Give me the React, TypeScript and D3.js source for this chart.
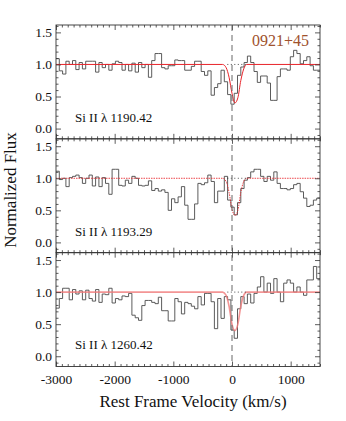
import { useRef, useEffect } from 'react';
import * as d3 from 'd3';

const WIDTH = 346;
const HEIGHT = 421;
const MARGIN = { top: 25, right: 26, bottom: 54.5, left: 56 };
const FONT = "'Liberation Serif', 'Times New Roman', serif";

const V_DOMAIN = [-3000, 1500];
const FLUX_DOMAIN = [-0.16, 1.615];
const X_MAJOR = [-3000, -2000, -1000, 0, 1000];
const Y_MAJOR = [0, 0.5, 1.0, 1.5];

const BIN_START = -3000;
const BIN_WIDTH = 56.25;

const OBJECT_NAME = '0921+45';
const LINE_LABELS = ['Si II \u03bb 1190.42', 'Si II \u03bb 1193.29', 'Si II \u03bb 1260.42'];

const FLUX_1190 = [
  1.09, 0.9, 0.85, 1.05, 1.0, 1.06, 0.92, 1.03, 0.93, 1.05,
  1.05, 1.05, 0.88, 1.03, 0.95, 1.0, 0.91, 1.01, 1.05, 1.03,
  0.91, 1.0, 0.9, 1.02, 0.88, 1.03, 0.95, 1.0, 0.8, 1.06,
  1.17, 1.17, 0.95, 0.93, 0.98,
  0.98, 1.07, 1.06, 1.06, 0.91, 0.91, 0.97, 1.05, 1.05, 0.89,
  0.83, 0.9, 0.52, 0.64, 0.7, 0.91, 0.73, 0.53, 0.38, 0.55,
  0.83, 0.96, 1.03, 1.13, 1.03, 0.89, 0.72, 0.82, 0.82, 0.71,
  0.44, 0.44, 0.81, 0.93, 0.93, 0.91, 1.12, 1.22, 1.17, 1.01,
  1.06, 1.12, 0.98, 0.91, 0.91,
];

const FLUX_1193 = [
  1.11, 0.98, 1.0, 0.87, 1.01, 1.03, 1.05, 1.01, 0.92, 1.0,
  1.05, 0.88, 1.02, 0.87, 1.01, 0.92, 0.75, 1.14, 1.14, 0.89,
  0.88, 0.97, 0.92, 1.03, 1.0, 0.89, 0.88, 0.89, 0.96, 0.81,
  0.84, 0.8, 0.82, 0.78, 0.5,
  0.68, 0.62, 0.71, 0.87, 0.58, 0.36, 0.36, 0.6, 0.92, 0.9,
  0.93, 1.05, 0.95, 0.62, 0.8, 0.8, 1.03, 0.66, 0.55, 0.43,
  0.62, 0.84, 0.97, 1.01, 1.1, 1.14, 1.14, 1.03, 0.95, 1.03,
  0.97, 1.1, 0.92, 0.84, 0.84, 0.82, 0.84, 0.9, 0.92, 0.79,
  0.69, 0.56, 0.58, 0.66, 0.69,
];

const FLUX_1260 = [
  0.75, 0.9, 1.06, 1.06, 0.88, 1.04, 0.97, 1.02, 0.88, 1.03,
  0.9, 0.86, 1.04, 0.84, 0.97, 0.96, 1.06, 0.83, 0.9, 0.88,
  0.94, 0.93, 0.98, 0.64, 0.6, 0.56, 0.79, 0.87, 0.87, 0.84,
  0.82, 0.92, 0.71, 0.71, 0.55,
  0.55, 0.9, 0.85, 0.66, 0.84, 0.82, 0.78, 0.74, 0.93, 0.8,
  0.98, 0.98, 0.85, 0.43, 0.9, 0.59, 0.93, 0.88, 0.41, 0.28,
  0.74, 0.93, 0.82, 0.97, 0.83, 0.98, 1.08, 1.24, 1.0, 1.14,
  0.98, 1.21, 1.0, 0.85, 1.14, 1.19, 1.14, 1.0, 1.08, 1.0,
  0.95, 1.19, 1.19, 1.4, 1.21,
];

// fitted absorption model
const MODEL_V = [-3000, -160, -100, -50, 0, 50, 100, 150, 200, 250, 1500];
const MODEL_1190 = [1, 1, 0.95, 0.8, 0.55, 0.4, 0.48, 0.75, 0.93, 1, 1];
const MODEL_1193 = [1, 1, 0.95, 0.78, 0.52, 0.42, 0.5, 0.78, 0.95, 1, 1];
const MODEL_1260 = [1, 1, 0.95, 0.78, 0.5, 0.4, 0.5, 0.78, 0.95, 1, 1];

// continuum shown dotted over the fitted region
const CONT_V = [-80, 270];
const CONT_LEVEL = 1.0;

const FLUXES = [FLUX_1190, FLUX_1193, FLUX_1260];
const MODELS = [MODEL_1190, MODEL_1193, MODEL_1260];
const MODEL_STYLES = [
  { stroke: '#e8242a', width: 1, dash: null, opacity: 1 },
  { stroke: '#e8242a', width: 1, dash: '1.5,1', opacity: 0.85 },
  { stroke: '#f07a7a', width: 1.6, dash: null, opacity: 0.8 },
];

export default function App() {
  const svgRef = useRef<SVGSVGElement>(null);

  useEffect(() => {
    if (!svgRef.current) return;
    const svg = d3.select(svgRef.current);
    svg.selectAll('*').remove();

    const innerW = WIDTH - MARGIN.left - MARGIN.right;
    const innerH = HEIGHT - MARGIN.top - MARGIN.bottom;
    const panelH = innerH / FLUXES.length;

    const x = d3.scaleLinear().domain(V_DOMAIN).range([0, innerW]);
    const y = d3.scaleLinear().domain(FLUX_DOMAIN).range([panelH, 0]);

    const xMinor = d3.range(V_DOMAIN[0], V_DOMAIN[1] + 1, 100).filter((v) => v % 1000 !== 0);
    const yMinor = d3.range(-1, 17).map((d) => d / 10).filter((v) => Math.round(v * 10) % 5 !== 0);

    const root = svg.append('g').attr('transform', `translate(${MARGIN.left},${MARGIN.top})`);

    const styleAxis = (g: any) => {
      g.select('.domain').remove();
      g.selectAll('.tick line').attr('stroke', '#333').attr('stroke-width', 0.8);
      g.selectAll('.tick text')
        .attr('fill', '#111')
        .attr('font-family', FONT)
        .attr('font-size', '13.5px');
    };

    FLUXES.forEach((flux, i) => {
      const g = root.append('g').attr('transform', `translate(0,${i * panelH})`);

      g.append('clipPath')
        .attr('id', `clip-${i}`)
        .append('rect')
        .attr('width', innerW)
        .attr('height', panelH);

      // histogram spectrum
      const edges = flux.map((f, k) => [BIN_START + k * BIN_WIDTH, f] as [number, number]);
      edges.push([BIN_START + flux.length * BIN_WIDTH, flux[flux.length - 1]]);
      const step = d3.line<[number, number]>()
        .x((d) => x(d[0]))
        .y((d) => y(d[1]))
        .curve(d3.curveStepAfter);
      g.append('path')
        .attr('clip-path', `url(#clip-${i})`)
        .attr('d', step(edges))
        .attr('fill', 'none')
        .attr('stroke', '#4a4a4a')
        .attr('stroke-width', 0.9);

      // model fit
      const ms = MODEL_STYLES[i];
      const modelLine = d3.line<number>()
        .x((_, k) => x(MODEL_V[k]))
        .y((d) => y(d))
        .curve(d3.curveMonotoneX);
      g.append('path')
        .attr('clip-path', `url(#clip-${i})`)
        .attr('d', modelLine(MODELS[i]))
        .attr('fill', 'none')
        .attr('stroke', ms.stroke)
        .attr('stroke-width', ms.width)
        .attr('stroke-opacity', ms.opacity)
        .attr('stroke-dasharray', ms.dash);

      // dotted continuum
      g.append('line')
        .attr('x1', x(CONT_V[0]))
        .attr('x2', x(CONT_V[1]))
        .attr('y1', y(CONT_LEVEL))
        .attr('y2', y(CONT_LEVEL))
        .attr('stroke', '#222')
        .attr('stroke-width', 0.8)
        .attr('stroke-dasharray', '1,2.5');

      // axes, ticks inward on all four sides
      g.append('g')
        .call(d3.axisLeft(y).tickValues(Y_MAJOR).tickSize(-5).tickPadding(4).tickFormat(d3.format('.1f')))
        .call(styleAxis);
      g.append('g')
        .call(d3.axisLeft(y).tickValues(yMinor).tickSize(-2.5).tickFormat(() => ''))
        .call(styleAxis);
      g.append('g')
        .attr('transform', `translate(${innerW},0)`)
        .call(d3.axisRight(y).tickValues(Y_MAJOR).tickSize(-5).tickFormat(() => ''))
        .call(styleAxis);
      g.append('g')
        .attr('transform', `translate(${innerW},0)`)
        .call(d3.axisRight(y).tickValues(yMinor).tickSize(-2.5).tickFormat(() => ''))
        .call(styleAxis);

      g.append('g')
        .call(d3.axisTop(x).tickValues(X_MAJOR).tickSize(-5).tickFormat(() => ''))
        .call(styleAxis);
      g.append('g')
        .call(d3.axisTop(x).tickValues(xMinor).tickSize(-2.5).tickFormat(() => ''))
        .call(styleAxis);
      const isLast = i === FLUXES.length - 1;
      g.append('g')
        .attr('transform', `translate(0,${panelH})`)
        .call(d3.axisBottom(x).tickValues(X_MAJOR).tickSize(-5).tickPadding(8)
          .tickFormat((d) => (isLast ? String(d) : '')))
        .call(styleAxis);
      g.append('g')
        .attr('transform', `translate(0,${panelH})`)
        .call(d3.axisBottom(x).tickValues(xMinor).tickSize(-2.5).tickFormat(() => ''))
        .call(styleAxis);

      g.append('rect')
        .attr('width', innerW)
        .attr('height', panelH)
        .attr('fill', 'none')
        .attr('stroke', '#333')
        .attr('stroke-width', 0.9);

      g.append('text')
        .attr('x', 19)
        .attr('y', panelH - 17)
        .attr('font-family', FONT)
        .attr('font-size', '13px')
        .attr('fill', '#111')
        .text(LINE_LABELS[i]);
    });

    // zero-velocity marker through all panels
    root.append('line')
      .attr('x1', x(0))
      .attr('x2', x(0))
      .attr('y1', 0)
      .attr('y2', innerH)
      .attr('stroke', '#666')
      .attr('stroke-width', 1)
      .attr('stroke-dasharray', '6,4');

    root.append('text')
      .attr('x', innerW - 11)
      .attr('y', 21)
      .attr('text-anchor', 'end')
      .attr('font-family', FONT)
      .attr('font-size', '16px')
      .attr('fill', '#a0522d')
      .text(OBJECT_NAME);

    svg.append('text')
      .attr('x', 193)
      .attr('y', 407)
      .attr('text-anchor', 'middle')
      .attr('font-family', FONT)
      .attr('font-size', '17px')
      .attr('fill', '#111')
      .text('Rest Frame Velocity (km/s)');

    svg.append('text')
      .attr('transform', 'rotate(-90)')
      .attr('x', -190)
      .attr('y', 16)
      .attr('text-anchor', 'middle')
      .attr('font-family', FONT)
      .attr('font-size', '17px')
      .attr('fill', '#111')
      .text('Normalized Flux');
  }, []);

  return (
    <svg
      ref={svgRef}
      width={WIDTH}
      height={HEIGHT}
      style={{ position: 'fixed', left: 0, top: 0, background: '#fff' }}
    />
  );
}
